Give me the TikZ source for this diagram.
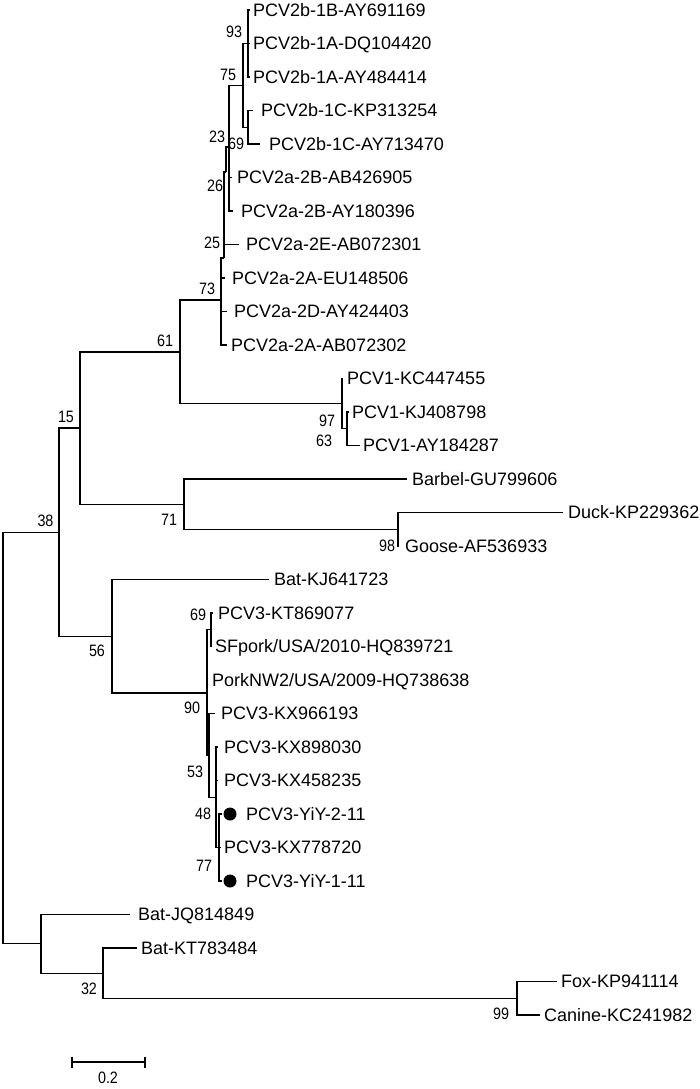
\documentclass[tikz,border=0pt]{standalone}
\usepackage{fontspec}
\setmainfont{Liberation Sans}
\newcommand\bv[1]{\scalebox{0.87}[1]{#1}}
\begin{document}
\begin{tikzpicture}[x=1pt,y=-1pt,
  br/.style={line width=1.1pt},
  tip/.style={anchor=west, inner sep=0pt, text height=12.9pt, text depth=0pt, font=\fontsize{18}{20}\selectfont},
  bsl/.style={inner sep=0pt, font=\fontsize{16.5}{18}\selectfont},
  dot/.style={circle, fill=black, inner sep=0pt, minimum size=13pt}]
\fill[white] (0,0) rectangle (700,1089);
\useasboundingbox (0,0) rectangle (700,1089);

% ---- internal nodes ----
\coordinate (root) at (3,738.1);
\coordinate (n38) at (59,532.5);
\coordinate (n15) at (80,428);
\coordinate (n61) at (180,352);
\coordinate (n73) at (221,300);
\coordinate (j73) at (224,258);
\coordinate (n23) at (226,172);
\coordinate (n69b) at (229,147);
\coordinate (n75) at (243,85.4);
\coordinate (n93) at (248,43.5);
\coordinate (nKP) at (248,127.25);
\coordinate (n97) at (342,403.6);
\coordinate (n63) at (347,428.75);
\coordinate (n71) at (184,504.4);
\coordinate (n98) at (398,529.25);
\coordinate (n56) at (112,636.25);
\coordinate (n90) at (207,693);
\coordinate (n69c) at (211,629.75);
\coordinate (nL) at (209,755.75);
\coordinate (nM) at (216,797.25);
\coordinate (nP) at (219,847.5);
\coordinate (nB) at (41,943.75);
\coordinate (n32) at (103,973.1);
\coordinate (n99) at (517,998.25);

% ---- tips ----
\coordinate (t1) at (250,10);
\coordinate (t2) at (250,43.5);
\coordinate (t3) at (250,77);
\coordinate (t4) at (253,110.5);
\coordinate (t5) at (260,144);
\coordinate (t6) at (232,177.5);
\coordinate (t7) at (233,211);
\coordinate (t8) at (239,244.5);
\coordinate (t9) at (225,278);
\coordinate (t10) at (227,311.5);
\coordinate (t11) at (227,345);
\coordinate (t12) at (343,378.5);
\coordinate (t13) at (349,412);
\coordinate (t14) at (360,445.5);
\coordinate (t15) at (407,479);
\coordinate (t16) at (563,512.5);
\coordinate (t17) at (399,546);
\coordinate (t18) at (269,579.5);
\coordinate (t19) at (213,613);
\coordinate (t20) at (212,646.5);
\coordinate (t21) at (208,680);
\coordinate (t22) at (215,713.5);
\coordinate (t23) at (218,747);
\coordinate (t24) at (218,780.5);
\coordinate (t25) at (222,814);
\coordinate (t26) at (221,847.5);
\coordinate (t27) at (222,881);
\coordinate (t28) at (130,914.5);
\coordinate (t29) at (137,948);
\coordinate (t30) at (557,981.5);
\coordinate (t31) at (540,1015);

% ---- branches ----
\draw[br] (root) |- (n38);
\draw[br] (root) |- (nB);
\draw[br] (n38) |- (n15);
\draw[br] (n38) |- (n56);
\draw[br] (n15) |- (n61);
\draw[br] (n15) |- (n71);
\draw[br] (n61) |- (n73);
\draw[br] (n61) |- (n97);
\draw[br] (n73) |- (j73);
\draw[br] (n73) |- (t9);
\draw[br] (n73) |- (t10);
\draw[br] (n73) |- (t11);
\draw[br] (j73) |- (n23);
\draw[br] (j73) |- (t8);
\draw[br] (n23) |- (n69b);
\draw[br] (n69b) |- (n75);
\draw[br] (n69b) |- (t6);
\draw[br] (n69b) |- (t7);
\draw[br] (n75) |- (n93);
\draw[br] (n75) |- (nKP);
\draw[br] (n93) |- (t1);
\draw[br] (n93) |- (t2);
\draw[br] (n93) |- (t3);
\draw[br] (nKP) |- (t4);
\draw[br] (nKP) |- (t5);
\draw[br] (n97) |- (t12);
\draw[br] (n97) |- (n63);
\draw[br] (n63) |- (t13);
\draw[br] (n63) |- (t14);
\draw[br] (n71) |- (t15);
\draw[br] (n71) |- (n98);
\draw[br] (n98) |- (t16);
\draw[br] (n98) |- (t17);
\draw[br] (n56) |- (t18);
\draw[br] (n56) |- (n90);
\draw[br] (n90) |- (n69c);
\draw[br] (n90) |- (t21);
\draw[br] (n90) |- (nL);
\draw[br] (n69c) |- (t19);
\draw[br] (n69c) |- (t20);
\draw[br] (nL) |- (t22);
\draw[br] (nL) |- (nM);
\draw[br] (nM) |- (t23);
\draw[br] (nM) |- (t24);
\draw[br] (nM) |- (nP);
\draw[br] (nP) |- (t25);
\draw[br] (nP) |- (t26);
\draw[br] (nP) |- (t27);
\draw[br] (nB) |- (t28);
\draw[br] (nB) |- (n32);
\draw[br] (n32) |- (t29);
\draw[br] (n32) |- (n99);
\draw[br] (n99) |- (t30);
\draw[br] (n99) |- (t31);

% ---- tip labels ----
\node[tip] (l1) at (253,10) {PCV2b-1B-AY691169};
\node[tip] (l2) at (253,43.5) {PCV2b-1A-DQ104420};
\node[tip] (l3) at (253,77) {PCV2b-1A-AY484414};
\node[tip] (l4) at (261,110.5) {PCV2b-1C-KP313254};
\node[tip] (l5) at (269,144) {PCV2b-1C-AY713470};
\node[tip] (l6) at (237,177.5) {PCV2a-2B-AB426905};
\node[tip] (l7) at (241,211) {PCV2a-2B-AY180396};
\node[tip] (l8) at (246,244.5) {PCV2a-2E-AB072301};
\node[tip] (l9) at (232,278) {PCV2a-2A-EU148506};
\node[tip] (l10) at (234,311.5) {PCV2a-2D-AY424403};
\node[tip] (l11) at (231,345) {PCV2a-2A-AB072302};
\node[tip] (l12) at (347,378.5) {PCV1-KC447455};
\node[tip] (l13) at (352,412) {PCV1-KJ408798};
\node[tip] (l14) at (363,445.5) {PCV1-AY184287};
\node[tip] (l15) at (412,479) {Barbel-GU799606};
\node[tip] (l16) at (568,512.5) {Duck-KP229362};
\node[tip] (l17) at (405,546) {Goose-AF536933};
\node[tip] (l18) at (274,579.5) {Bat-KJ641723};
\node[tip] (l19) at (218,613) {PCV3-KT869077};
\node[tip] (l20) at (215,646.5) {SFpork/USA/2010-HQ839721};
\node[tip] (l21) at (212,680) {PorkNW2/USA/2009-HQ738638};
\node[tip] (l22) at (221,713.5) {PCV3-KX966193};
\node[tip] (l23) at (224,747) {PCV3-KX898030};
\node[tip] (l24) at (224,780.5) {PCV3-KX458235};
\node[tip] (l25) at (246,814) {PCV3-YiY-2-11};
\node[tip] (l26) at (224,847.5) {PCV3-KX778720};
\node[tip] (l27) at (246,881) {PCV3-YiY-1-11};
\node[tip] (l28) at (138,914.5) {Bat-JQ814849};
\node[tip] (l29) at (141,948) {Bat-KT783484};
\node[tip] (l30) at (561,981.5) {Fox-KP941114};
\node[tip] (l31) at (544,1015) {Canine-KC241982};

\node[dot] (d25) at (230,814) {};
\node[dot] (d27) at (230,881) {};

% ---- bootstrap values ----
\node[bsl] (b93) at (234,32) {\bv{93}};
\node[bsl] (b75) at (228,75) {\bv{75}};
\node[bsl] (b23) at (217,137) {\bv{23}};
\node[bsl] (b69a) at (236,144) {\bv{69}};
\node[bsl] (b26) at (215,186) {\bv{26}};
\node[bsl] (b25) at (212,243) {\bv{25}};
\node[bsl] (b73) at (207,289) {\bv{73}};
\node[bsl] (b61) at (165,341) {\bv{61}};
\node[bsl] (b15) at (66,417) {\bv{15}};
\node[bsl] (b97) at (327,421) {\bv{97}};
\node[bsl] (b63) at (324,441) {\bv{63}};
\node[bsl] (b38) at (45.5,521) {\bv{38}};
\node[bsl] (b71) at (169,520) {\bv{71}};
\node[bsl] (b98) at (387,546) {\bv{98}};
\node[bsl] (b56) at (97,651) {\bv{56}};
\node[bsl] (b69b) at (198,615) {\bv{69}};
\node[bsl] (b90) at (192,708) {\bv{90}};
\node[bsl] (b53) at (195,772) {\bv{53}};
\node[bsl] (b48) at (203,814) {\bv{48}};
\node[bsl] (b77) at (204,866) {\bv{77}};
\node[bsl] (b32) at (89,989) {\bv{32}};
\node[bsl] (b99) at (501,1014) {\bv{99}};

% ---- scale bar ----
\coordinate (s1) at (72,1062);
\coordinate (s2) at (145,1062);
\draw[br] (s1) -- (s2);
\draw[br] ([yshift=5.5pt]s1) -- ([yshift=-5.5pt]s1);
\draw[br] ([yshift=5.5pt]s2) -- ([yshift=-5.5pt]s2);
\node[bsl] (sl) at (108,1078) {\bv{0.2}};
\end{tikzpicture}
\end{document}
